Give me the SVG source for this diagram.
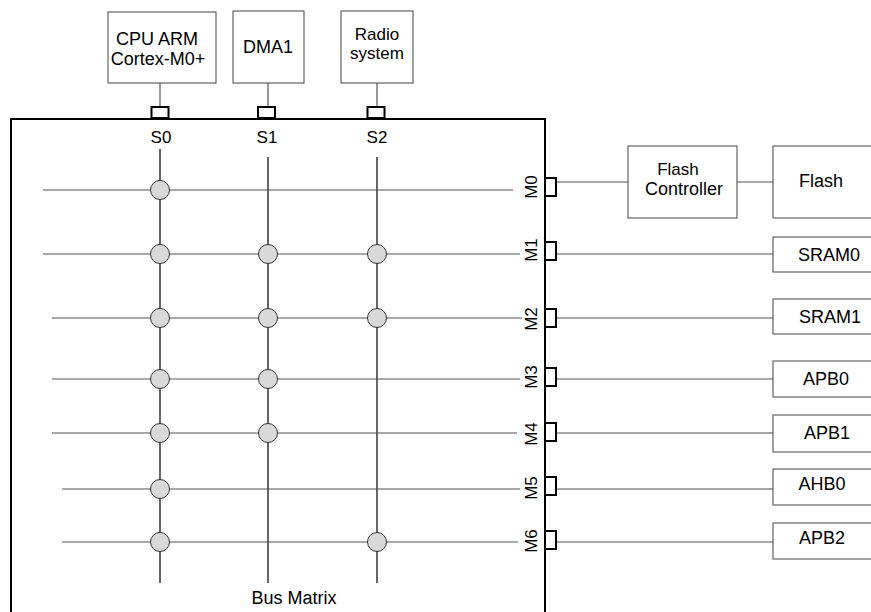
<svg xmlns="http://www.w3.org/2000/svg" width="871" height="612" viewBox="0 0 871 612">
<style>
text{font-family:"Liberation Sans",Arial,sans-serif;font-size:18px;fill:#000}
.sm{font-size:17px}
.box{fill:#fff;stroke:#444;stroke-width:1}
.port{fill:#fff;stroke:#000;stroke-width:2}
.h{stroke:#555;stroke-width:1.2;fill:none}
.v{stroke:#000;stroke-width:1.2;fill:none}
.x{fill:#d9d9d9;stroke:#333;stroke-width:1}
.mid{text-anchor:middle}
</style>
<rect x="0" y="0" width="871" height="612" fill="#fff"/>
<g id="busmatrix">
<path d="M11,620 V119 H545 V620" fill="none" stroke="#000" stroke-width="2"/>
<text x="294" y="604" class="mid">Bus Matrix</text>
</g>
<g id="connectors">
<line class="h" x1="160" y1="83" x2="160" y2="107"/>
<line class="h" x1="268" y1="83" x2="268" y2="107"/>
<line class="h" x1="377" y1="83" x2="377" y2="107"/>
<line class="v" x1="160" y1="149" x2="160" y2="583"/>
<line class="v" x1="268" y1="157" x2="268" y2="583"/>
<line class="v" x1="377" y1="157" x2="377" y2="583"/>
<line class="h" x1="43" y1="190" x2="513" y2="190"/>
<line class="h" x1="43" y1="254" x2="520" y2="254"/>
<line class="h" x1="52" y1="318" x2="522" y2="318"/>
<line class="h" x1="52" y1="379" x2="520" y2="379"/>
<line class="h" x1="52" y1="433" x2="517" y2="433"/>
<line class="h" x1="62" y1="489" x2="520" y2="489"/>
<line class="h" x1="62" y1="542" x2="518" y2="542"/>
<line class="h" x1="556" y1="182" x2="628" y2="182"/>
<line class="h" x1="737" y1="182" x2="773" y2="182"/>
<line class="h" x1="557" y1="254" x2="773" y2="254"/>
<line class="h" x1="557" y1="318" x2="773" y2="318"/>
<line class="h" x1="557" y1="379" x2="773" y2="379"/>
<line class="h" x1="557" y1="433" x2="773" y2="433"/>
<line class="h" x1="557" y1="489" x2="773" y2="489"/>
<line class="h" x1="557" y1="542" x2="773" y2="542"/>
</g>
<g id="crosspoints">
<circle class="x" cx="160" cy="190" r="9.5"/>
<circle class="x" cx="160" cy="254" r="9.5"/>
<circle class="x" cx="268" cy="254" r="9.5"/>
<circle class="x" cx="377" cy="254" r="9.5"/>
<circle class="x" cx="160" cy="318" r="9.5"/>
<circle class="x" cx="268" cy="318" r="9.5"/>
<circle class="x" cx="377" cy="318" r="9.5"/>
<circle class="x" cx="160" cy="379" r="9.5"/>
<circle class="x" cx="268" cy="379" r="9.5"/>
<circle class="x" cx="160" cy="433" r="9.5"/>
<circle class="x" cx="268" cy="433" r="9.5"/>
<circle class="x" cx="160" cy="489" r="9.5"/>
<circle class="x" cx="160" cy="542" r="9.5"/>
<circle class="x" cx="377" cy="542" r="9.5"/>
</g>
<g id="cpu">
<rect class="box" x="108" y="12" width="108" height="71"/>
<text x="157" y="45" class="mid">CPU  ARM</text>
<text x="158" y="65" class="mid">Cortex-M0+</text>
</g>
<g id="dma1">
<rect class="box" x="233" y="11" width="71" height="72"/>
<text x="268" y="53" class="mid">DMA1</text>
</g>
<g id="radio">
<rect class="box" x="341" y="11" width="72" height="72"/>
<text x="377" y="40" class="mid sm">Radio</text>
<text x="377" y="59" class="mid sm">system</text>
</g>
<g id="slave-ports">
<rect class="port" x="151.5" y="107" width="17" height="11"/>
<rect class="port" x="258" y="107" width="17" height="11"/>
<rect class="port" x="367.5" y="107" width="17" height="11"/>
<text x="161" y="143" class="mid sm">S0</text>
<text x="267" y="143" class="mid sm">S1</text>
<text x="377" y="143" class="mid sm">S2</text>
</g>
<g id="master-ports">
<rect class="port" x="545" y="178" width="11" height="18"/>
<rect class="port" x="545" y="242" width="11" height="18"/>
<rect class="port" x="545" y="309" width="11" height="18"/>
<rect class="port" x="545" y="368" width="11" height="18"/>
<rect class="port" x="545" y="423" width="11" height="18"/>
<rect class="port" x="545" y="477" width="11" height="18"/>
<rect class="port" x="545" y="531" width="11" height="18"/>
<text transform="translate(537,187) rotate(-90)" class="mid sm">M0</text>
<text transform="translate(537,250) rotate(-90)" class="mid sm">M1</text>
<text transform="translate(537,319) rotate(-90)" class="mid sm">M2</text>
<text transform="translate(537,377) rotate(-90)" class="mid sm">M3</text>
<text transform="translate(537,434) rotate(-90)" class="mid sm">M4</text>
<text transform="translate(537,488) rotate(-90)" class="mid sm">M5</text>
<text transform="translate(537,541) rotate(-90)" class="mid sm">M6</text>
</g>
<g id="flash-controller">
<rect class="box" x="628" y="146" width="109" height="72"/>
<text x="678" y="175" class="mid sm">Flash</text>
<text x="684" y="195" class="mid">Controller</text>
</g>
<g id="flash">
<rect class="box" x="773" y="146" width="110" height="72"/>
<text x="821" y="187" class="mid">Flash</text>
</g>
<g id="sram0">
<rect class="box" x="773" y="237" width="110" height="35"/>
<text x="829" y="261" class="mid">SRAM0</text>
</g>
<g id="sram1">
<rect class="box" x="773" y="299" width="110" height="35"/>
<text x="830" y="323" class="mid">SRAM1</text>
</g>
<g id="apb0">
<rect class="box" x="773" y="361" width="110" height="36"/>
<text x="826" y="385" class="mid">APB0</text>
</g>
<g id="apb1">
<rect class="box" x="773" y="415" width="110" height="37"/>
<text x="827" y="439" class="mid">APB1</text>
</g>
<g id="ahb0">
<rect class="box" x="773" y="469" width="110" height="36"/>
<text x="822" y="490" class="mid">AHB0</text>
</g>
<g id="apb2">
<rect class="box" x="773" y="523" width="110" height="36"/>
<text x="822" y="544" class="mid">APB2</text>
</g>
</svg>
